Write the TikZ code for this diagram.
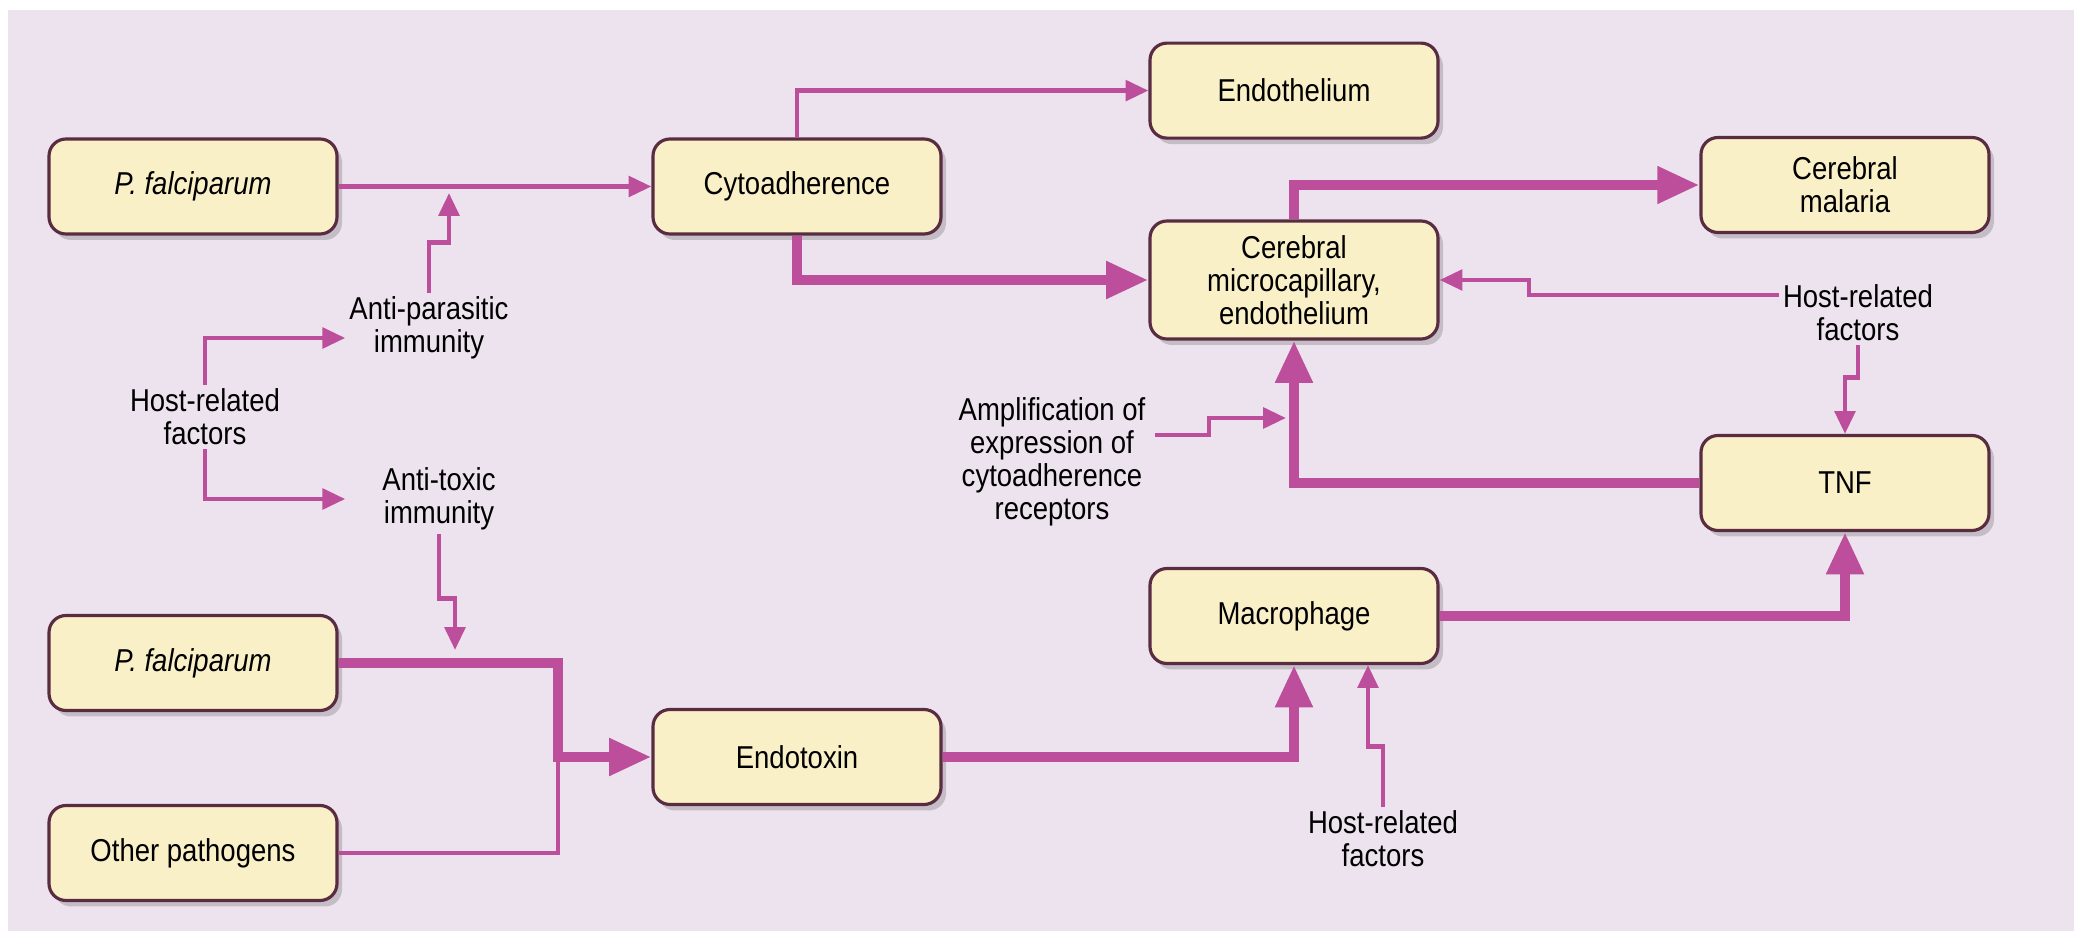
\documentclass[tikz,border=0pt]{standalone}
\usepackage{fontspec}
\setmainfont{Liberation Sans}[FakeStretch=0.87]
\usetikzlibrary{arrows.meta, positioning, calc, shadows}
\definecolor{paper}{RGB}{237, 227, 239}
\definecolor{boxfill}{RGB}{250, 240, 199}
\definecolor{boxline}{RGB}{90, 44, 66}
\definecolor{flow}{RGB}{188, 78, 156}

\begin{document}
\begin{tikzpicture}[
          box/.style={rectangle, rounded corners=0.17cm,
                      draw=boxline, line width=0.9pt, fill=boxfill,
                      minimum width=2.88cm, minimum height=0.95cm,
                      align=center, inner sep=2pt,
                      drop shadow={shadow xshift=0.05cm,
                                   shadow yshift=-0.06cm,
                                   opacity=0.3, fill=black!60}},
          lab/.style={align=center, inner sep=1pt},
          link/.style={draw=flow, line width=1.3pt,
                       -{Triangle[length=6.5pt, width=5.8pt]}},
          bus/.style={draw=flow, line width=2.9pt,
                      -{Triangle[length=12pt, width=10pt]}},
          font=\fontsize{9}{9.4}\selectfont,
      ]
      \useasboundingbox (0,0) rectangle (20.74,-9.312);
      \fill[white] (0,0) rectangle (20.74,-9.312);
      \fill[paper] (0.08,-0.1) rectangle (20.74,-9.312);

      % Boxes
      \node[box] (pf1) at (1.93, -1.865) {\itshape P. falciparum};
      \node[box] (cyto) at (7.97, -1.865) {Cytoadherence};
      \node[box] (endo) at (12.94, -0.906) {Endothelium};
      \node[box, minimum height=1.18cm] (cmc)
          at (12.94, -2.80) {Cerebral\\microcapillary,\\endothelium};
      \node[box] (cm) at (18.45, -1.85) {Cerebral\\malaria};
      \node[box] (tnf) at (18.45, -4.83) {TNF};
      \node[box] (mac) at (12.94, -6.16) {Macrophage};
      \node[box] (pf2) at (1.93, -6.63) {\itshape P. falciparum};
      \node[box] (endox) at (7.97, -7.57) {Endotoxin};
      \node[box] (other) at (1.93, -8.53) {Other pathogens};

      % Free labels
      \node[lab] (hrf1) at (2.05, -4.17) {Host-related\\factors};
      \node[lab] (antipara) at (4.29, -3.28) {Anti-parasitic\\immunity};
      \node[lab] (antitox) at (4.39, -4.99) {Anti-toxic\\immunity};
      \node[lab] (amp) at (10.52, -4.62)
          {Amplification of\\expression of\\cytoadherence\\receptors};
      \node[lab] (hrf2) at (18.58, -3.13) {Host-related\\factors};
      \node[lab] (hrf3) at (13.83, -8.39) {Host-related\\factors};

      % Free ends
      \coordinate (pa) at (4.49, -1.93);
      \coordinate (at) at (4.55, -6.50);
      \coordinate (jn) at (5.58, -7.57);
      \coordinate (ampout) at (11.55, -4.35);
      \coordinate (ampin) at (12.86, -4.18);
      \coordinate (m3) at ($(mac.south)+(0.74,0)$);

      % Thin links
      \draw[link] (pf1.east) -- (cyto.west);
      \draw[link] (cyto.north) |- (endo.west);
      \draw[link] (antipara.north) -- ++(0,0.5) -| (pa);
      \draw[link] (hrf1.north) |- ([yshift=-0.1cm]antipara.west);
      \draw[link] (hrf1.south) |- (antipara.west |- antitox.west);
      \draw[link] (antitox.south) -- ++(0,-0.64) -| (at);
      \draw[link, -] (other.east) -| (jn);
      \draw[link] (ampout) -- ++(0.54,0) |- (ampin);
      \draw[link] ([yshift=0.18cm]hrf2.west) -- ++(-2.5,0) |- (cmc.east);
      \draw[link] (hrf2.south) -- ++(0,-0.32) -| (tnf.north);
      \draw[link] (hrf3.north) -- ++(0,0.6) -| (m3);

      % Thick links
      \draw[bus] (cyto.south) |- (cmc.west);
      \draw[bus] (cmc.north) |- (cm.west);
      \draw[bus] (tnf.west) -| (cmc.south);
      \draw[bus] (mac.east) -| (tnf.south);
      \draw[bus] (endox.east) -| (mac.south);
      \draw[bus] (pf2.east) -| (jn) -- (endox.west);
      \end{tikzpicture}
\end{document}
